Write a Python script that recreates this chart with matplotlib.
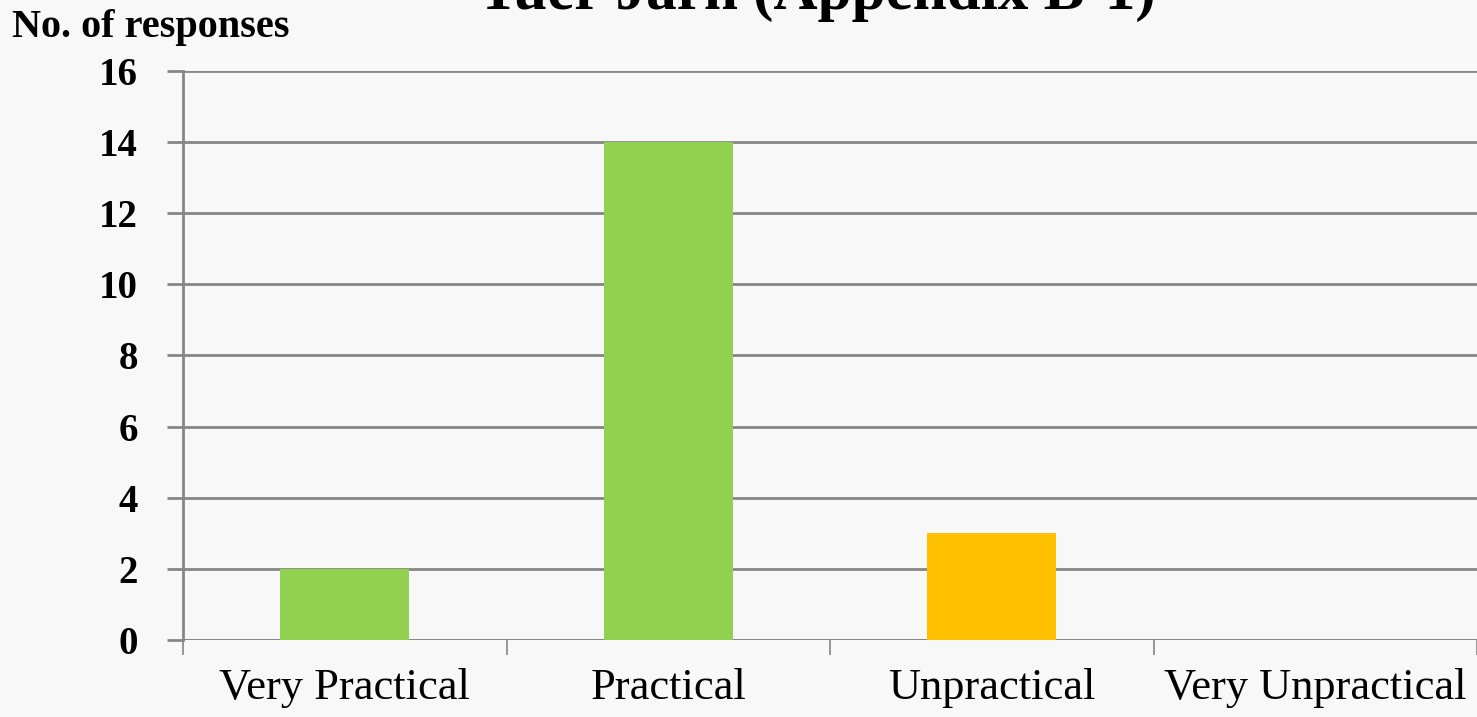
import matplotlib.pyplot as plt

categories = ["Very Practical", "Practical", "Unpractical", "Very Unpractical"]
responses = [2, 14, 3, 0]
bar_colors = ["#92D050", "#92D050", "#FFC000", "#FFC000"]
y_ticks = [0, 2, 4, 6, 8, 10, 12, 14, 16]

plt.rcParams['font.family'] = ['Liberation Serif', 'DejaVu Serif']

fig = plt.figure(figsize=(14.77, 7.17), dpi=100, facecolor='#f8f8f8')
ax = fig.add_axes([0.1239, 0.1074, 0.8761, 0.7936])
ax.set_facecolor('none')

x = range(len(categories))
ax.bar(x, responses, width=0.4, color=bar_colors, zorder=3)

ax.set_xlim(-0.5, len(categories) - 0.5)
ax.set_ylim(0, 16)
ax.set_yticks(y_ticks)
ax.set_yticklabels([str(t) for t in y_ticks], fontsize=28, fontweight='bold')
ax.yaxis.grid(True, color='#868686', linewidth=2, zorder=1)

# category labels sit between the boundary tick marks
ax.set_xticks([i - 0.5 for i in range(len(categories) + 1)])
ax.set_xticklabels([])
ax.set_xticks(list(x), minor=True)
ax.set_xticklabels(categories, minor=True, fontsize=32)
ax.tick_params(axis='x', which='minor', length=0, pad=20)
ax.tick_params(axis='x', which='major', length=11, width=1.2, color='#868686')
ax.tick_params(axis='y', length=11.5, width=2, color='#868686', pad=21)

for side in ['top', 'right', 'bottom']:
    ax.spines[side].set_visible(False)
ax.spines['left'].set_color('#868686')
ax.spines['left'].set_linewidth(2)
ax.spines['left'].set_bounds(0, 16)
ax.axhline(0, color='#868686', linewidth=2, zorder=2)

fig.text(0.008, 0.962, "No. of responses", fontsize=29, fontweight='bold', va='center')
fig.text(0.553, 1.009, "Tuer Jarn (Appendix B-1)", fontsize=44, fontweight='bold',
         ha='center', va='center')

fig.savefig("out.png", dpi=100, facecolor=fig.get_facecolor())
